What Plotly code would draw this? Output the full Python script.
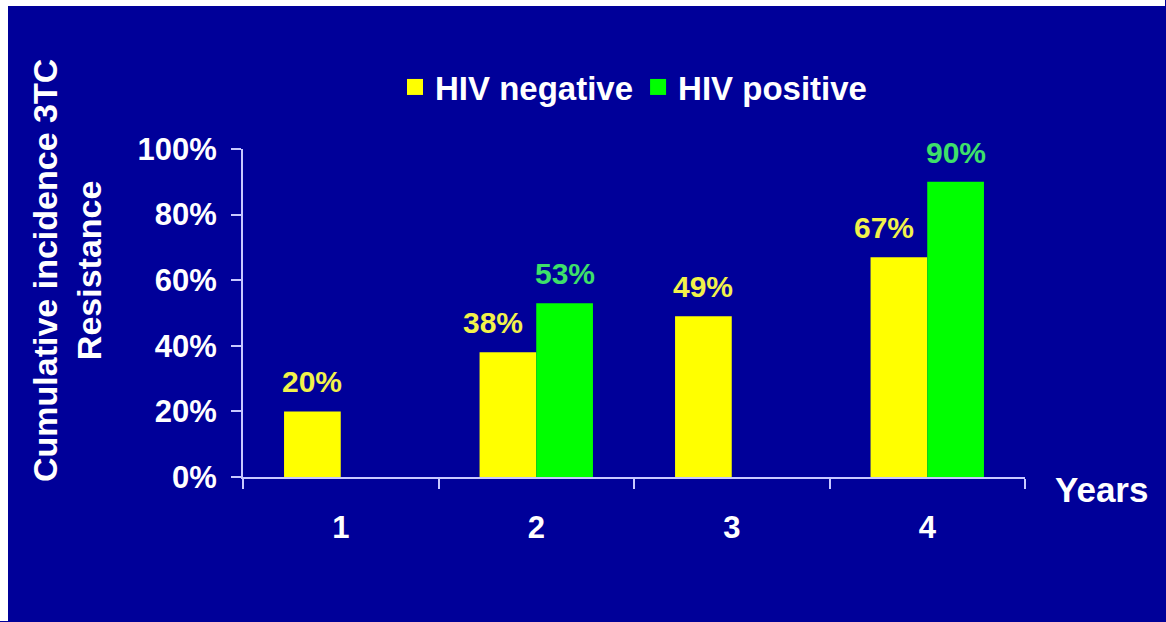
import plotly.graph_objects as go

# Cumulative incidence of 3TC resistance by year of follow-up
years = ["1", "2", "3", "4"]
hiv_negative = [20, 38, 49, 67]
hiv_positive = [None, 53, None, 90]

series_names = ["HIV negative", "HIV positive"]
y_ticks = [0, 20, 40, 60, 80, 100]
y_tick_labels = ["0%", "20%", "40%", "60%", "80%", "100%"]

BG = "#000099"
YELLOW = "#ffff00"
GREEN = "#00ff00"
AXIS = "#c8c8ff"
FONT = "Liberation Sans, Arial, sans-serif"

W, H = 1166, 622
M_L, M_R, M_T, M_B = 243, 141, 149, 145
PLOT_W = W - M_L - M_R
PLOT_H = H - M_T - M_B
BARGAP = 0.42


def px_x(p):
    return (p - M_L) / PLOT_W


def px_y(p):
    return (H - M_B - p) / PLOT_H


fig = go.Figure()

fig.add_trace(go.Bar(x=years, y=hiv_negative, name=series_names[0],
                     marker=dict(color=YELLOW, line=dict(width=0)),
                     showlegend=False))
fig.add_trace(go.Bar(x=years, y=hiv_positive, name=series_names[1],
                     marker=dict(color=GREEN, line=dict(width=0)),
                     showlegend=False))

# legend entries with larger square swatches
for name, col in zip(series_names, [YELLOW, GREEN]):
    fig.add_trace(go.Scatter(x=[None], y=[None], mode="markers", name=name,
                             marker=dict(symbol="square", size=16, color=col)))

# value labels above each bar (grouped offset derived from the bar gap)
half = (1 - BARGAP) / 4
annotations = []
for i, (neg, pos) in enumerate(zip(hiv_negative, hiv_positive)):
    if neg is not None:
        annotations.append(dict(
            x=i - half, y=neg, xref="x", yref="y", text=f"{neg}%",
            showarrow=False, yanchor="bottom", yshift=11,
            xshift=-15 if pos is not None else 0,
            font=dict(family=FONT, size=30, color="#f2f24a", weight="bold")))
    if pos is not None:
        annotations.append(dict(
            x=i + half, y=pos, xref="x", yref="y", text=f"{pos}%",
            showarrow=False, yanchor="bottom", yshift=11,
            font=dict(family=FONT, size=30, color="#3ee06a", weight="bold")))

# y-axis title
annotations.append(dict(
    x=px_x(67), y=px_y(271), xref="paper", yref="paper",
    text="Cumulative incidence 3TC<br>Resistance", textangle=-90,
    showarrow=False, xanchor="center", yanchor="middle",
    font=dict(family=FONT, size=34, color="white", weight="bold")))

# x-axis title at the right end of the axis
annotations.append(dict(
    x=px_x(1053), y=px_y(489), xref="paper", yref="paper",
    text="Years", showarrow=False, xanchor="left", yanchor="middle",
    font=dict(family=FONT, size=35, color="white", weight="bold")))

# thin white margin along the top and left edges; the far ends stop just
# short of the right and bottom edges so nothing spills past the page
shapes = [
    dict(type="rect", xref="paper", yref="paper", layer="above",
         x0=px_x(0), x1=px_x(8), y0=px_y(H - 1), y1=px_y(0),
         fillcolor="white", line=dict(width=0)),
    dict(type="rect", xref="paper", yref="paper", layer="above",
         x0=px_x(0), x1=px_x(W - 1), y0=px_y(6), y1=px_y(0),
         fillcolor="white", line=dict(width=0)),
]

fig.update_layout(
    width=W, height=H,
    margin=dict(l=M_L, r=M_R, t=M_T, b=M_B, pad=0),
    paper_bgcolor=BG,
    plot_bgcolor=BG,
    barmode="group",
    bargap=BARGAP,
    bargroupgap=0,
    font=dict(family=FONT, color="white"),
    showlegend=True,
    legend=dict(orientation="h", x=px_x(395), y=px_y(87),
                xanchor="left", yanchor="middle",
                bgcolor="rgba(0,0,0,0)", borderwidth=0,
                itemwidth=30, tracegroupgap=0,
                font=dict(family=FONT, size=33, color="white", weight="bold")),
    annotations=annotations,
    shapes=shapes,
    xaxis=dict(type="category", categoryorder="array", categoryarray=years,
               showgrid=False, zeroline=False,
               showline=True, linecolor=AXIS, linewidth=2,
               ticks="outside", tickson="boundaries", ticklen=10,
               tickwidth=2, tickcolor=AXIS, ticklabelstandoff=22,
               tickfont=dict(family=FONT, size=31, color="white", weight="bold")),
    yaxis=dict(range=[0, 100], tickmode="array", tickvals=y_ticks,
               ticktext=y_tick_labels,
               showgrid=False, zeroline=False,
               showline=True, linecolor=AXIS, linewidth=2,
               ticks="outside", ticklen=10, tickwidth=2, tickcolor=AXIS,
               ticklabelstandoff=8,
               tickfont=dict(family=FONT, size=31, color="white", weight="bold")),
)

fig.write_html("out.html")
